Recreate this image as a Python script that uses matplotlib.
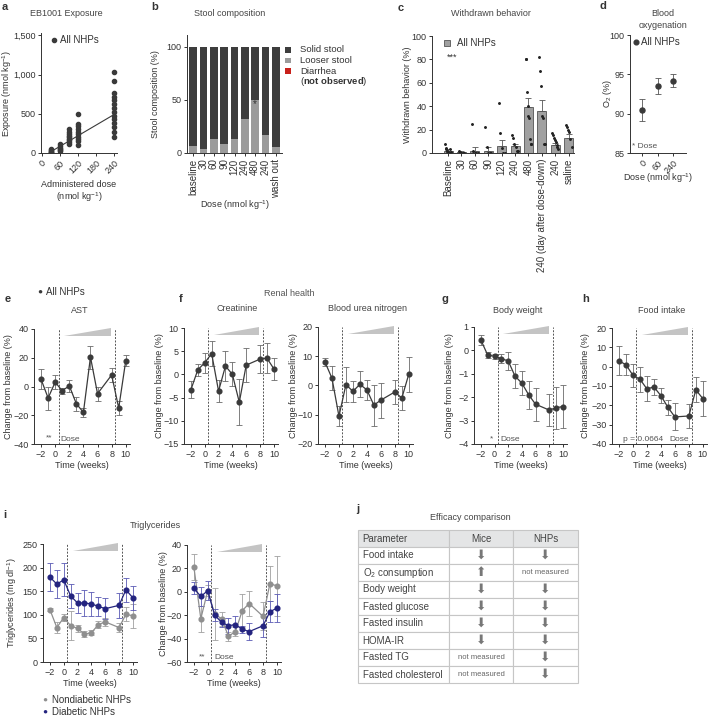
import numpy as np
import matplotlib
matplotlib.use('Agg')
import matplotlib.pyplot as plt

# ---- a: exposure per administered dose
expo_doses = [30, 60, 90, 120, 240]
expo_30 = [50, 35, 25, 15, 10, 5]
expo_60 = [110, 90, 70, 55, 40, 25]
expo_90 = [300, 270, 240, 220, 200, 180, 160, 140, 110]
expo_120 = [500, 370, 340, 300, 270, 240, 210, 180, 150, 100]
expo_240 = [1030, 915, 765, 715, 670, 620, 580, 525, 470, 430, 380, 330, 270, 205]
trend_dose = [30, 240]
trend_expo = [15, 490]

# ---- b: stool composition
stool_labels = ['baseline', '30', '60', '90', '120', '240', '480', '240', 'wash out']
looser_stool = [7, 4, 13, 8, 13, 32, 50, 17, 6]
stool_legend = ['Solid stool', 'Looser stool', 'Diarrhea']

# ---- c: withdrawn behaviour
wd_labels = ['Baseline', '30', '60', '90', '120', '240', '480',
             '240 (day after dose-down)', '240', 'saline']
wd_mean = [2, 1, 2, 2, 6, 6, 39, 36, 7, 13]
wd_sem = [1, 0.5, 3, 3, 5, 2, 8, 9, 1.5, 3]
wd_points = [
    [8, 4, 3, 2, 2, 1, 1, 0, 0, 0, 3, 1],
    [2, 1, 0, 0, 0],
    [25, 2, 0, 0, 0],
    [22, 5, 0, 0, 0],
    [43, 17, 4, 0, 0],
    [15, 13, 8, 5, 2, 2],
    [80, 80, 52, 40, 32, 30, 12, 8, 8],
    [82, 70, 57, 32, 30, 8, 8],
    [17, 15, 13, 11, 9, 7, 5, 3],
    [24, 22, 20, 18, 12, 5],
]

# ---- d: blood oxygenation
o2_labels = ['0', '60', '240']
o2_mean = [90.5, 93.5, 94.2]
o2_err = [1.4, 1.0, 0.8]

# ---- e-i: time courses
weeks = [-2, -1, 0, 1, 2, 3, 4, 5, 6, 8, 9, 10]
ast_mean = [5, -8, 3, -3, 0.5, -12, -18, 20.5, -5, 8, -15, 18]
ast_err = [7, 8, 5, 2, 4, 5, 3, 8, 5, 5, 5, 4]
creat_mean = [-3.3, 1, 2.5, 4.5, -3.6, 1.8, 0, -6, 2, 3.3, 3.5, 1.2]
creat_err = [1.8, 1.3, 2.2, 2.6, 2.3, 3.2, 2.6, 5, 3.7, 3, 3.3, 2.4]
bun_mean = [8, 2.5, -10.5, 0.3, -2, 0.4, -1.5, -6.7, -5, -2.2, -4.3, 3.9]
bun_err = [1.5, 4, 3.5, 6, 3.5, 4.5, 3.5, 7, 6, 4, 4, 6]
bw_mean = [0.45, -0.2, -0.25, -0.35, -0.45, -1.1, -1.4, -1.9, -2.3, -2.55, -2.45, -2.4]
bw_err = [0.2, 0.12, 0.1, 0.2, 0.4, 0.5, 0.5, 0.6, 0.7, 0.7, 0.9, 0.9]
food_mean = [3, 1, -4.5, -6.5, -11.5, -10.5, -15, -21, -26, -25.5, -12, -16.5]
food_err = [7.5, 5.5, 6, 6.5, 6.5, 4, 4, 4, 7, 6, 6.5, 9]
tg_nd = [111, 73, 94, 77, 71, 59, 62, 79, 85, 73, 101, 98]
tg_nd_err = [3, 12, 8, 30, 7, 6, 5, 8, 8, 10, 15, 25]
tg_d = [180, 165, 174, 140, 125, 125, 123, 118, 113, 120, 153, 136]
tg_d_err = [30, 30, 35, 25, 22, 28, 25, 20, 22, 27, 25, 25]
tgc_nd = [21, -23, 1, -19, -23, -38, -34, -16, -10, -21, 7, 5]
tgc_nd_err = [11, 11, 5, 22, 6, 4, 4, 14, 11, 12, 15, 26]
tgc_d = [3, -4, 1, -20, -26, -29, -28, -32, -34, -29, -17, -14]
tgc_d_err = [5, 8, 8, 5, 4, 7, 7, 3, 7, 10, 9, 12]

# ---- j: efficacy table
tbl_cols = ['Parameter', 'Mice', 'NHPs']
tbl_params = ['Food intake', 'O$_2$ consumption', 'Body weight', 'Fasted glucose',
              'Fasted insulin', 'HOMA-IR', 'Fasted TG', 'Fasted cholesterol']
tbl_mice = ['down', 'up', 'down', 'down', 'down', 'down', 'not measured', 'not measured']
tbl_nhps = ['down', 'not measured', 'down', 'down', 'down', 'down', 'down', 'down']

plt.rcParams['font.family'] = ['Liberation Sans', 'DejaVu Sans']
plt.rcParams['mathtext.fontset'] = 'custom'
plt.rcParams['mathtext.rm'] = 'Liberation Sans'
plt.rcParams['mathtext.it'] = 'Liberation Sans:italic'
plt.rcParams['mathtext.bf'] = 'Liberation Sans:bold'
plt.rcParams['font.size'] = 6.5
for k in ['text.color', 'axes.labelcolor', 'xtick.color', 'ytick.color', 'axes.edgecolor']:
    plt.rcParams[k] = '#333333'
plt.rcParams['axes.linewidth'] = 0.7

DARK = '#3a3a3a'
GREY = '#8f8f8f'
NAVY = '#24247f'
STOOL_COLORS = ['#3d3d3d', '#9b9b9b', '#c8201a']

W, H = 708, 716
fig = plt.figure(figsize=(W / 100, H / 100), dpi=100)


def add_ax(l, t, r, b):
    ax = fig.add_axes([l / W, 1 - b / H, (r - l) / W, (b - t) / H])
    ax.spines[['top', 'right']].set_visible(False)
    ax.tick_params(length=2.5, width=0.7, labelsize=6.5, pad=1.5)
    return ax


def ftext(x, y, s, **kw):
    kw.setdefault('ha', 'center')
    kw.setdefault('va', 'center')
    fig.text(x / W, 1 - y / H, s, **kw)


def fsquare(x, y, size, **kw):
    fig.patches.append(plt.Rectangle(((x - size / 2) / W, 1 - (y + size / 2) / H),
                                     size / W, size / H, transform=fig.transFigure, **kw))


def ylab(ax, s, xpx):
    p = ax.get_position()
    ax.set_ylabel(s, va='center')
    ax.yaxis.set_label_coords((xpx / W - p.x0) / p.width, 0.5)


def xlab(ax, s, ypx):
    p = ax.get_position()
    ax.set_xlabel(s, va='center')
    ax.xaxis.set_label_coords(0.5, ((1 - ypx / H) - p.y0) / p.height)


def dose_marks(ax):
    ax.axvline(0.5, color='#555555', lw=0.7, ls=(0, (2, 1.5)))
    ax.axvline(8.5, color='#555555', lw=0.7, ls=(0, (2, 1.5)))
    tr = ax.get_xaxis_transform()
    ax.fill([1.3, 7.9, 7.9], [0.94, 0.94, 1.01], color='#c4c4c4', lw=0,
            transform=tr, clip_on=False)


def timecourse(ax, mean, err, color=DARK, ecolor='#6a6a6a'):
    ax.errorbar(weeks, mean, yerr=err, fmt='-o', color=color, ms=3.4, lw=0.9,
                ecolor=ecolor, elinewidth=0.6, capsize=2, capthick=0.6)
    ax.set_xticks([-2, 0, 2, 4, 6, 8, 10])
    ax.set_xlim(-3, 10.6)


# ================= a
ax = add_ax(41, 33, 117, 153)
for d, vals in zip(expo_doses, [expo_30, expo_60, expo_90, expo_120, expo_240]):
    ax.plot([d] * len(vals), vals, 'o', color=DARK, ms=3)
ax.plot(trend_dose, trend_expo, color=DARK, lw=0.8)
ax.set_xlim(-2, 250)
ax.set_ylim(0, 1530)
ax.set_yticks([0, 500, 1000, 1500])
ax.set_yticklabels(['0', '500', '1,000', '1,500'])
ax.set_xticks([0, 60, 120, 180, 240])
plt.setp(ax.get_xticklabels(), rotation=45, ha='right', rotation_mode='anchor')
ylab(ax, 'Exposure (nmol kg$^{-1}$)', 7)
xlab(ax, 'Administered dose\n(nmol kg$^{-1}$)', 192)
ax.plot([42], [1435], 'o', color=DARK, ms=3)
ax.text(62, 1435, 'All NHPs', va='center', fontsize=7)
ftext(66, 13, 'EB1001 Exposure', color='#444444')
ftext(5, 7, 'a', weight='bold', fontsize=8)

# ================= b
ax = add_ax(187, 35, 282, 153)
xb = np.arange(len(stool_labels))
solid = [100 - v for v in looser_stool]
ax.bar(xb, looser_stool, width=0.72, color=STOOL_COLORS[1])
ax.bar(xb, solid, bottom=looser_stool, width=0.72, color=STOOL_COLORS[0])
ax.text(6, 46, '*', ha='center', va='center', fontsize=7, color='#333333')
ax.set_xlim(-0.6, 8.6)
ax.set_ylim(0, 111)
ax.set_yticks([0, 50, 100])
ax.set_xticks(xb)
ax.set_xticklabels(stool_labels, rotation=90, fontsize=7)
ylab(ax, 'Stool composition (%)', 155)
xlab(ax, 'Dose (nmol kg$^{-1}$)', 205)
ftext(230, 13, 'Stool composition', color='#444444')
ftext(155, 7, 'b', weight='bold', fontsize=8)
for k, (lab, col) in enumerate(zip(stool_legend, STOOL_COLORS)):
    fsquare(288, 50 + 10.6 * k, 5.5, facecolor=col, lw=0)
    ftext(300, 50 + 10.6 * k, lab, ha='left', fontsize=6.8)
ftext(300, 82, r'($\mathbf{not\ observed}$)', ha='left', fontsize=6.8)

# ================= c
ax = add_ax(432, 36, 574, 153)
xc = np.arange(len(wd_labels))
ax.bar(xc, wd_mean, width=0.68, color='#a0a0a0', edgecolor='#555555', lw=0.6)
ax.errorbar(xc, wd_mean, yerr=[np.zeros(len(wd_sem)), wd_sem], fmt='none',
            ecolor='#555555', elinewidth=0.6, capsize=2, capthick=0.6)
for i, pts in enumerate(wd_points):
    off = np.linspace(-0.22, 0.22, len(pts))
    ax.plot(i + off, pts, '.', color='#222222', ms=2.2)
ax.set_xlim(-1.2, 9.4)
ax.set_ylim(0, 100)
ax.set_yticks([0, 20, 40, 60, 80, 100])
ax.set_xticks(xc)
ax.set_xticklabels(wd_labels, rotation=90, fontsize=7)
ylab(ax, 'Withdrawn behavior (%)', 408)
fsquare(447, 43, 6, facecolor='#a0a0a0', edgecolor='#555555', lw=0.6)
ftext(457, 43, 'All NHPs', ha='left', fontsize=7)
ftext(452, 57, '***', fontsize=6.5)
ftext(491, 13, 'Withdrawn behavior', color='#444444')
ftext(401, 8, 'c', weight='bold', fontsize=8)

# ================= d
ax = add_ax(630, 35, 686, 153)
xd = np.arange(len(o2_labels))
ax.errorbar(xd, o2_mean, yerr=o2_err, fmt='o', color=DARK, ms=3.6,
            ecolor='#555555', elinewidth=0.6, capsize=2, capthick=0.6)
ax.set_xlim(-0.77, 2.8)
ax.set_ylim(85, 100)
ax.set_yticks([85, 90, 95, 100])
ax.set_xticks(xd)
ax.set_xticklabels(o2_labels)
plt.setp(ax.get_xticklabels(), rotation=45, ha='right', rotation_mode='anchor')
ylab(ax, 'O$_2$ (%)', 607)
xlab(ax, 'Dose (nmol kg$^{-1}$)', 178)
ax.plot([-0.38], [99.1], 'o', color=DARK, ms=3.4)
ax.text(-0.05, 99.1, 'All NHPs', va='center', fontsize=7)
ax.text(-0.62, 85.8, '* Dose', va='center', fontsize=6, color='#555555')
ftext(663, 14, 'Blood', color='#444444')
ftext(663, 26, 'oxygenation', color='#444444')
ftext(603, 6, 'd', weight='bold', fontsize=8)

# ================= e
ax = add_ax(34, 329, 130, 444)
dose_marks(ax)
timecourse(ax, ast_mean, ast_err)
ax.set_ylim(-40, 40)
ax.set_yticks([-40, -20, 0, 20, 40])
ylab(ax, 'Change from baseline (%)', 9)
xlab(ax, 'Time (weeks)', 465)
ax.text(-0.9, -38.5, '**', ha='center', va='bottom', fontsize=6, color='#555555')
ax.text(0.7, -39, 'Dose', ha='left', va='bottom', fontsize=6, color='#555555')
ftext(40, 292, '\u25cf', fontsize=6, color=DARK)
ftext(46, 292, 'All NHPs', ha='left', fontsize=7)
ftext(80, 310, 'AST', color='#444444')
ftext(8, 299, 'e', weight='bold', fontsize=8)

# ================= f
ax = add_ax(184, 328, 278, 444)
dose_marks(ax)
timecourse(ax, creat_mean, creat_err)
ax.set_ylim(-15, 10)
ax.set_yticks([-15, -10, -5, 0, 5, 10])
ylab(ax, 'Change from baseline (%)', 159)
xlab(ax, 'Time (weeks)', 465)
ftext(237, 308, 'Creatinine', color='#444444')

ax = add_ax(318, 327, 413, 444)
dose_marks(ax)
timecourse(ax, bun_mean, bun_err)
ax.set_ylim(-20, 20)
ax.set_yticks([-20, -10, 0, 10, 20])
ylab(ax, 'Change from baseline (%)', 294)
xlab(ax, 'Time (weeks)', 465)
ftext(368, 308, 'Blood urea nitrogen', color='#444444')
ftext(289, 294, 'Renal health', color='#555555')
ftext(181, 299, 'f', weight='bold', fontsize=8)

# ================= g
ax = add_ax(474, 327, 567, 444)
dose_marks(ax)
timecourse(ax, bw_mean, bw_err)
ax.set_ylim(-4, 1)
ax.set_yticks([-4, -3, -2, -1, 0, 1])
ylab(ax, 'Change from baseline (%)', 450)
xlab(ax, 'Time (weeks)', 465)
ax.text(-0.4, -3.93, '*', ha='center', va='bottom', fontsize=6, color='#555555')
ax.text(0.8, -3.95, 'Dose', ha='left', va='bottom', fontsize=6, color='#555555')
ftext(518, 310, 'Body weight', color='#444444')
ftext(445, 299, 'g', weight='bold', fontsize=8)

# ================= h
ax = add_ax(612, 328, 707, 444)
dose_marks(ax)
timecourse(ax, food_mean, food_err)
ax.set_ylim(-40, 20)
ax.set_yticks([-40, -30, -20, -10, 0, 10, 20])
ylab(ax, 'Change from baseline (%)', 585)
xlab(ax, 'Time (weeks)', 465)
ax.text(-1.4, -39.5, 'p = 0.0664', ha='left', va='bottom', fontsize=6, color='#555555')
ax.text(5.2, -39.5, 'Dose', ha='left', va='bottom', fontsize=6, color='#555555')
ftext(662, 310, 'Food intake', color='#444444')
ftext(586, 299, 'h', weight='bold', fontsize=8)

# ================= i
ax = add_ax(43, 544, 137, 662)
dose_marks(ax)
timecourse(ax, tg_nd, tg_nd_err, color=GREY, ecolor='#a0a0a0')
timecourse(ax, tg_d, tg_d_err, color=NAVY, ecolor='#5a5ab4')
ax.set_ylim(0, 250)
ax.set_yticks([0, 50, 100, 150, 200, 250])
ylab(ax, 'Triglycerides (mg dl$^{-1}$)', 12)
xlab(ax, 'Time (weeks)', 683)

ax = add_ax(187, 545, 281, 662)
dose_marks(ax)
timecourse(ax, tgc_nd, tgc_nd_err, color=GREY, ecolor='#a0a0a0')
timecourse(ax, tgc_d, tgc_d_err, color=NAVY, ecolor='#5a5ab4')
ax.set_ylim(-60, 40)
ax.set_yticks([-60, -40, -20, 0, 20, 40])
ylab(ax, 'Change from baseline (%)', 163)
xlab(ax, 'Time (weeks)', 683)
ax.text(-0.85, -59, '**', ha='center', va='bottom', fontsize=6, color='#555555')
ax.text(0.9, -59.5, 'Dose', ha='left', va='bottom', fontsize=6, color='#555555')
ftext(155, 525, 'Triglycerides', color='#444444')
ftext(45, 700, '\u25cf', fontsize=6, color=GREY)
ftext(52, 700, 'Nondiabetic NHPs', ha='left', fontsize=7)
ftext(45, 712, '\u25cf', fontsize=6, color=NAVY)
ftext(52, 712, 'Diabetic NHPs', ha='left', fontsize=7)
ftext(5, 515, 'i', weight='bold', fontsize=8)

# ================= j
ax = add_ax(358, 530, 578, 683)
ax.axis('off')
sym = {'down': '\u2b07', 'up': '\u2b06', 'not measured': 'not measured'}
rows = [[p, sym[m], sym[n]] for p, m, n in zip(tbl_params, tbl_mice, tbl_nhps)]
table = ax.table(cellText=rows, colLabels=tbl_cols, bbox=[0, 0, 1, 1],
                 colWidths=[0.415, 0.29, 0.295], cellLoc='center')
table.auto_set_font_size(False)
table.set_fontsize(7)
for (r, c), cell in table.get_celld().items():
    cell.set_edgecolor('#c6c6c6')
    cell.set_linewidth(0.8)
    t = cell.get_text()
    t.set_color('#444444')
    if r == 0:
        cell.set_facecolor('#e4e5e6')
    if c == 0:
        cell._loc = 'left'
        cell.PAD = 0.05
        t.set_ha('left')
    txt = t.get_text()
    if txt in ('\u2b07', '\u2b06'):
        t.set_fontsize(9)
        t.set_color('#777777')
    elif txt == 'not measured':
        t.set_fontsize(5.5)
        t.set_color('#666666')
ftext(470, 517, 'Efficacy comparison', color='#444444')
ftext(358, 509, 'j', weight='bold', fontsize=8)

fig.savefig('out.png', dpi=100)
